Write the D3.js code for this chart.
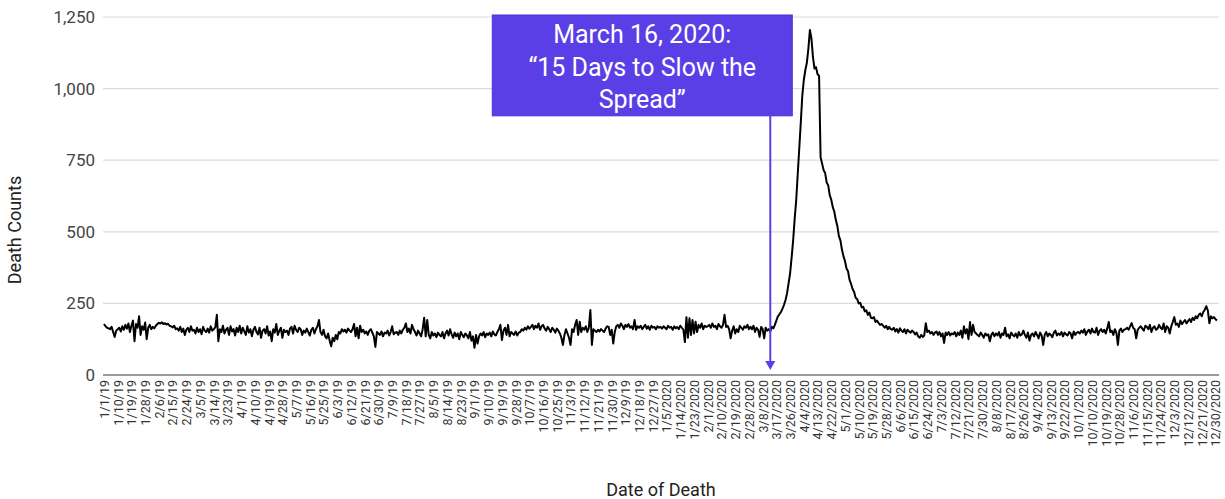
<!DOCTYPE html>
<html>
<head>
<meta charset="utf-8">
<script src="https://cdn.jsdelivr.net/npm/d3@7/dist/d3.min.js"></script>
<style>
  html, body { margin: 0; padding: 0; background: #fff; }
  svg { display: block; }
  text { font-family: Roboto, "Noto Sans", Arial, sans-serif; }
</style>
</head>
<body>
<svg id="chart" width="1225" height="499"></svg>
<script>
// ---------------- DATA ----------------
const startDate = "2019-01-01";

// Daily death counts, 1/1/2019 .. 12/31/2019 (365 values)
const deaths2019 = [
  // Jan
  178,170,165,163,160,168,150,133,155,160,165,152,170,158,175,162,180,150,172,190,118,178,165,205,140,170,158,183,125,165,175,
  // Feb
  160,168,163,172,178,182,180,184,178,181,176,179,172,170,166,172,160,163,155,168,150,162,140,158,165,150,170,155,
  // Mar
  158,145,165,150,160,142,168,155,150,162,148,170,155,160,166,210,118,160,150,172,145,158,165,140,170,152,160,138,165,150,172,
  // Apr
  145,165,152,140,170,148,160,135,158,168,150,142,165,130,155,160,145,170,138,152,118,160,148,178,140,155,165,130,158,150,
  // May
  155,140,162,168,145,172,158,150,165,160,140,155,148,162,150,138,158,165,145,160,170,192,150,140,158,135,128,145,120,100,130,
  // Jun
  118,140,125,150,145,160,152,158,148,162,155,150,160,178,135,165,128,172,150,158,145,152,140,155,160,148,135,98,150,145,
  // Jul
  140,152,135,148,145,155,138,150,170,142,148,150,140,155,145,158,165,180,150,162,145,175,160,150,138,155,145,135,160,200,135,
  // Aug
  192,140,128,150,138,145,132,148,140,135,150,128,145,155,138,160,142,130,148,135,145,125,150,140,132,145,138,128,150,120,135,
  // Sep
  95,140,110,135,145,138,150,132,145,140,148,135,152,142,138,150,160,175,122,155,165,140,175,135,150,145,140,152,138,148,
  // Oct
  150,160,155,165,158,170,162,168,175,160,172,165,180,158,170,175,162,155,168,160,150,165,158,148,162,155,145,130,105,140,160,
  // Nov
  145,130,105,160,150,175,192,140,186,150,165,158,170,150,165,227,105,160,155,150,158,152,160,155,150,162,170,168,140,158,
  // Dec
  110,150,170,175,165,180,172,160,175,168,178,165,170,160,192,158,170,165,172,160,168,175,162,170,158,172,165,168,160,170,165
];

// Daily death counts, 1/1/2020 .. 12/31/2020 (366 values)
const deaths2020 = [
  // Jan
  168,162,170,165,160,172,165,168,158,170,163,167,160,172,165,158,115,202,130,198,140,192,145,186,150,175,165,180,160,172,168,
  // Feb
  170,175,165,180,168,172,160,178,170,165,175,210,168,172,160,128,155,170,145,160,150,172,165,158,170,165,175,160,168,
  // Mar
  160,172,150,165,158,133,168,160,128,165,155,160,152,168,163,175,190,205,212,220,232,245,262,285,320,355,410,470,545,610,700,
  // Apr
  790,880,975,1030,1065,1090,1140,1205,1175,1110,1070,1075,1050,1045,760,738,715,705,672,662,628,612,586,570,541,520,485,470,438,415,
  // May
  398,372,362,332,318,300,290,270,265,250,252,236,238,222,226,210,218,200,198,202,185,190,182,175,178,172,165,172,160,168,160,
  // Jun
  158,165,152,160,148,163,155,150,160,145,158,152,148,155,150,142,148,135,130,140,133,138,181,150,155,145,150,140,148,152,
  // Jul
  140,150,135,145,112,148,140,150,138,145,142,150,135,148,140,155,130,170,145,160,125,185,140,175,150,145,140,135,148,140,130,
  // Aug
  145,138,142,118,140,148,135,145,138,150,130,145,140,165,135,142,128,148,140,135,145,130,150,138,142,155,140,130,148,120,140,
  // Sep
  145,135,150,140,128,148,138,105,140,150,135,145,140,132,148,155,138,145,140,150,135,148,142,138,150,145,128,152,140,148,
  // Oct
  150,145,155,148,160,140,152,158,145,162,150,148,165,140,155,160,150,158,145,162,185,150,155,140,160,148,105,155,162,150,158,
  // Nov
  160,165,158,170,181,165,160,128,158,165,170,162,155,172,168,160,175,150,165,170,158,162,175,165,160,180,150,170,165,145,
  // Dec
  170,185,202,175,180,168,190,178,185,192,180,188,195,185,200,192,205,198,210,215,205,220,228,240,225,181,205,198,202,195,190
];

// x-axis tick labels (every 9 days)
const xTickLabels = [
  "1/1/19","1/10/19","1/19/19","1/28/19","2/6/19","2/15/19","2/24/19","3/5/19","3/14/19","3/23/19",
  "4/1/19","4/10/19","4/19/19","4/28/19","5/7/19","5/16/19","5/25/19","6/3/19","6/12/19","6/21/19",
  "6/30/19","7/9/19","7/18/19","7/27/19","8/5/19","8/14/19","8/23/19","9/1/19","9/10/19","9/19/19",
  "9/28/19","10/7/19","10/16/19","10/25/19","11/3/19","11/12/19","11/21/19","11/30/19","12/9/19","12/18/19",
  "12/27/19","1/5/2020","1/14/2020","1/23/2020","2/1/2020","2/10/2020","2/19/2020","2/28/2020","3/8/2020","3/17/2020",
  "3/26/2020","4/4/2020","4/13/2020","4/22/2020","5/1/2020","5/10/2020","5/19/2020","5/28/2020","6/6/2020","6/15/2020",
  "6/24/2020","7/3/2020","7/12/2020","7/21/2020","7/30/2020","8/8/2020","8/17/2020","8/26/2020","9/4/2020","9/13/2020",
  "9/22/2020","10/1/2020","10/10/2020","10/19/2020","10/28/2020","11/6/2020","11/15/2020","11/24/2020","12/3/2020","12/12/2020",
  "12/21/2020","12/30/2020"
];

const yTickValues = [0, 250, 500, 750, 1000, 1250];

const xTitle = "Date of Death";
const yTitle = "Death Counts";

const annotationDate = "3/13/2020";
const annotationLines = ["March 16, 2020:", "\u201C15 Days to Slow the", "Spread\u201D"];

// ---------------- BUILD ----------------
const parseIso = d3.timeParse("%Y-%m-%d");
const parseLabel = s => {
  const p = s.split("/");
  let yr = +p[2]; if (yr < 100) yr += 2000;
  return new Date(yr, +p[0] - 1, +p[1]);
};
const start = parseIso(startDate);
const values = deaths2019.concat(deaths2020);
const series = values.map((v, i) => ({ date: d3.timeDay.offset(start, i), value: v }));

const svg = d3.select("#chart");
const plotLeft = 103, plotRight = 1219;

const x = d3.scaleTime()
  .domain([series[0].date, series[series.length - 1].date])
  .range([104, 1217]);

const y = d3.scaleLinear()
  .domain([0, 1250])
  .range([375, 17]);

// gridlines
svg.append("g")
  .selectAll("line")
  .data(yTickValues.filter(v => v > 0))
  .join("line")
  .attr("x1", plotLeft).attr("x2", plotRight)
  .attr("y1", d => y(d)).attr("y2", d => y(d))
  .attr("stroke", "#dcdcdc").attr("stroke-width", 1.2);

// y axis labels
const yAxis = svg.append("g")
  .attr("transform", `translate(${plotLeft},0)`)
  .call(d3.axisLeft(y).tickValues(yTickValues).tickFormat(d3.format(",")).tickSize(0).tickPadding(8));
yAxis.select(".domain").remove();
yAxis.selectAll("text")
  .attr("font-size", 17)
  .attr("fill", "#444")
  .style("font-family", "Roboto, sans-serif");

// x axis labels
const tickDates = xTickLabels.map(parseLabel);
const xAxis = svg.append("g")
  .attr("transform", `translate(0,${y(0)})`)
  .call(d3.axisBottom(x).tickValues(tickDates).tickFormat((d, i) => xTickLabels[i]).tickSize(0));
xAxis.select(".domain").remove();
xAxis.selectAll("text")
  .attr("transform", "rotate(-90)")
  .attr("text-anchor", "end")
  .attr("x", -5)
  .attr("y", 0)
  .attr("dy", "0.35em")
  .attr("font-size", 12.5)
  .attr("fill", "#333")
  .style("font-family", "Roboto, sans-serif");

// baseline
svg.append("line")
  .attr("x1", plotLeft).attr("x2", plotRight)
  .attr("y1", y(0)).attr("y2", y(0))
  .attr("stroke", "#9a9a9a").attr("stroke-width", 2);

// data line
const line = d3.line()
  .x(d => x(d.date))
  .y(d => y(d.value));

svg.append("path")
  .datum(series)
  .attr("fill", "none")
  .attr("stroke", "#000")
  .attr("stroke-width", 2)
  .attr("stroke-linejoin", "round")
  .attr("d", line);

// axis titles
svg.append("text")
  .attr("transform", `translate(21,230) rotate(-90)`)
  .attr("text-anchor", "middle")
  .attr("font-size", 18)
  .attr("fill", "#222")
  .text(yTitle);

svg.append("text")
  .attr("x", 661).attr("y", 496)
  .attr("text-anchor", "middle")
  .attr("font-size", 18)
  .attr("fill", "#222")
  .text(xTitle);

// annotation
const purple = "#5b3fe6";
const ax = x(parseLabel(annotationDate));
const boxTop = y(1250) - 2;
const boxBottom = y(905);
const boxW = 300;
const boxLeft = ax - 278;

svg.append("rect")
  .attr("x", boxLeft).attr("y", boxTop)
  .attr("width", boxW).attr("height", boxBottom - boxTop)
  .attr("fill", purple)
  .attr("stroke", "#4a30d0").attr("stroke-width", 1);

svg.append("text")
  .attr("text-anchor", "middle")
  .attr("font-size", 25)
  .attr("fill", "#fff")
  .selectAll("tspan")
  .data(annotationLines)
  .join("tspan")
  .attr("x", boxLeft + boxW / 2)
  .attr("y", (d, i) => boxTop + 28 + i * 32.5)
  .text(d => d);

svg.append("line")
  .attr("x1", ax).attr("x2", ax)
  .attr("y1", boxBottom).attr("y2", y(0) - 12)
  .attr("stroke", purple).attr("stroke-width", 2);

svg.append("path")
  .attr("d", `M${ax - 5},${y(0) - 14} L${ax + 5},${y(0) - 14} L${ax},${y(0) - 5} Z`)
  .attr("fill", purple);
</script>
</body>
</html>
